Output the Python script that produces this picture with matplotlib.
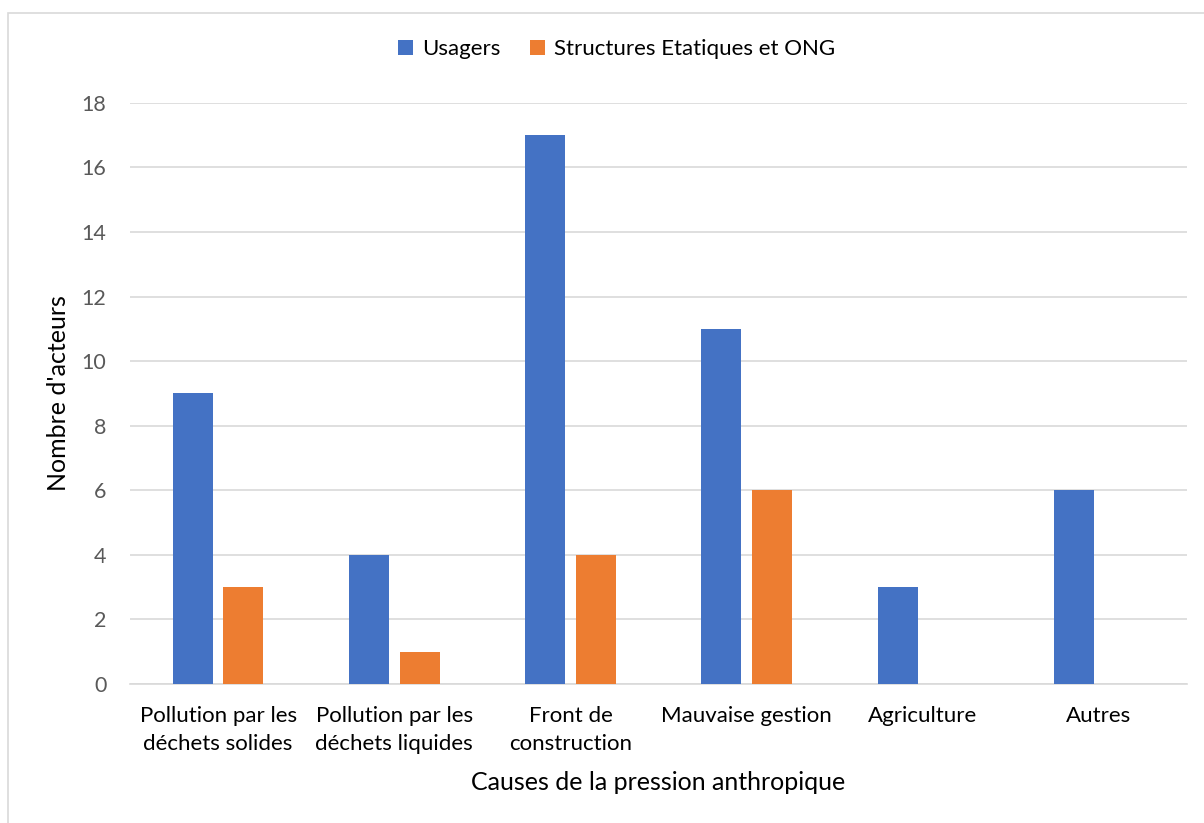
import matplotlib.pyplot as plt
import matplotlib.patches as patches
import numpy as np

categories = ["Pollution par les\ndéchets solides", "Pollution par les\ndéchets liquides",
              "Front de\nconstruction", "Mauvaise gestion", "Agriculture", "Autres"]
usagers = [9, 4, 17, 11, 3, 6]
structures = [3, 1, 4, 6, 0, 0]
yticks = [0, 2, 4, 6, 8, 10, 12, 14, 16, 18]

plt.rcParams['font.family'] = ['Lato', 'DejaVu Sans']

fig = plt.figure(figsize=(12.04, 8.23), dpi=100)
ax = fig.add_axes([0.108, 0.169, 0.878, 0.706])

# light frame around the chart area
fig.patches.append(patches.Rectangle((8 / 1204, -0.05), 1.2, 1 - 13 / 823 + 0.05,
                                     transform=fig.transFigure, fill=False,
                                     edgecolor='#d9d9d9', linewidth=1.2))

x = np.arange(len(categories))
w = 0.227
ax.bar(x - 0.143, usagers, w, color='#4472c4', label='Usagers', zorder=3)
ax.bar(x + 0.143, structures, w, color='#ed7d31', label='Structures Etatiques et ONG', zorder=3)

ax.set_xlim(-0.5, len(categories) - 0.5)
ax.set_ylim(0, 18)
ax.set_yticks(yticks)
ax.set_xticks(x)
ax.set_xticklabels(categories, fontsize=16, color='#000000', linespacing=1.5)
ax.tick_params(axis='y', labelsize=15.5, labelcolor='#595959', length=0, pad=17)
ax.tick_params(axis='x', length=0, pad=16)
ax.yaxis.grid(True, color='#d9d9d9', linewidth=1.2, zorder=0)
for s in ['top', 'right', 'left']:
    ax.spines[s].set_visible(False)
ax.spines['bottom'].set_color('#d9d9d9')
ax.spines['bottom'].set_linewidth(1.2)

ax.set_ylabel("Nombre d'acteurs", fontsize=18, labelpad=8)
ax.set_xlabel("Causes de la pression anthropique", fontsize=18, labelpad=12)

fig.legend(loc='center', bbox_to_anchor=(0.512, 0.94), ncol=2, frameon=False,
           fontsize=16, handlelength=0.7, handleheight=0.7, columnspacing=1.3,
           handletextpad=0.4)

fig.savefig("out.png", dpi=100)
